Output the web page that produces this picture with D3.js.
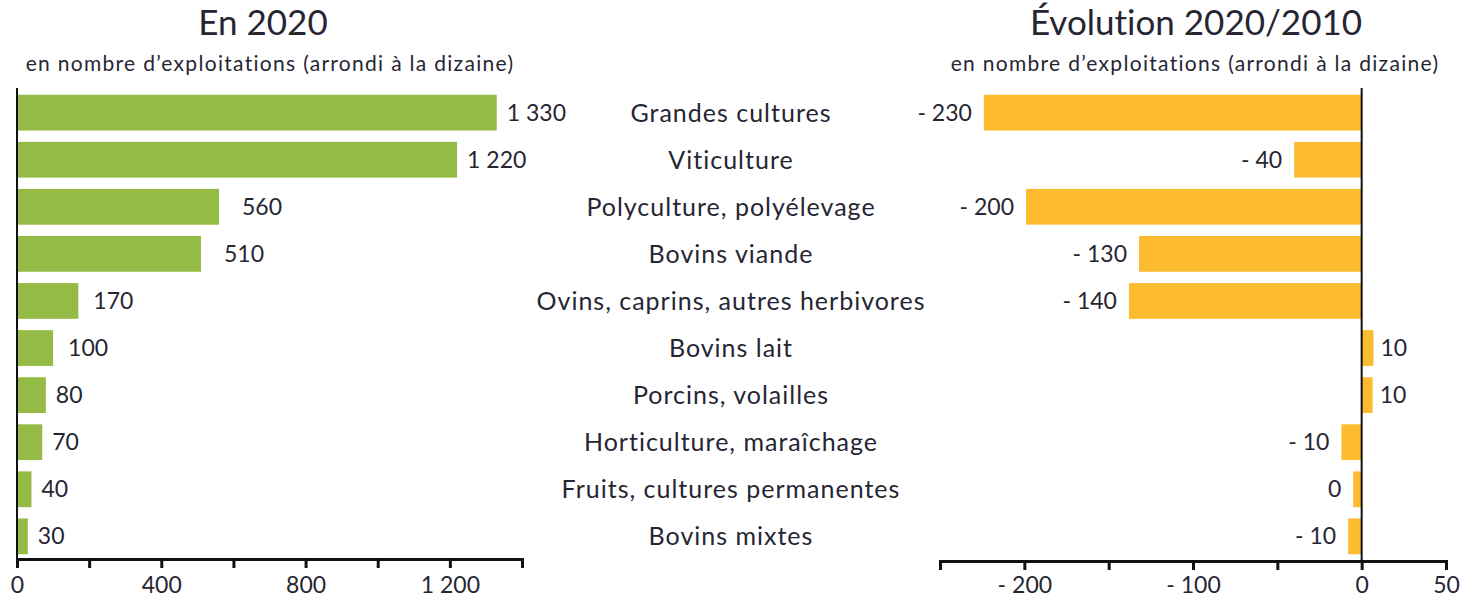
<!DOCTYPE html>
<html lang="fr">
<head>
    <meta charset="UTF-8">
    <title>Exploitations par orientation</title>
    <script src="https://cdnjs.cloudflare.com/ajax/libs/d3/7.8.5/d3.min.js"></script>
    <style>
        body { margin: 0; background: white; font-family: Lato, "Open Sans", sans-serif; }
        svg text { font-variant-ligatures: none; }
        .axis path, .axis line { stroke: #111; stroke-width: 3px; }
        .axis text { font-size: 23px; fill: #262633; font-family: Lato, sans-serif; }
    </style>
</head>
<body>
<svg width="1461" height="601"></svg>
<script>
    const categories = ["Grandes cultures", "Viticulture", "Polyculture, polyélevage", "Bovins viande",
        "Ovins, caprins, autres herbivores", "Bovins lait", "Porcins, volailles",
        "Horticulture, maraîchage", "Fruits, cultures permanentes", "Bovins mixtes"];
    const count2020 = [1330, 1220, 560, 510, 170, 100, 80, 70, 40, 30];
    const count2020Labels = ["1 330", "1 220", "560", "510", "170", "100", "80", "70", "40", "30"];
    const evolution = [-224, -40, -199, -132, -138, 7, 6.5, -12, -5, -8];
    const evolutionLabels = ["- 230", "- 40", "- 200", "- 130", "- 140", "10", "10", "- 10", "0", "- 10"];
    const leftTicks = [0, 200, 400, 600, 800, 1000, 1200, 1400];
    const leftTickLabels = {0: "0", 400: "400", 800: "800", 1200: "1 200"};
    const rightTicks = [-250, -200, -150, -100, -50, 0, 50];
    const rightTickLabels = {"-200": "- 200", "-100": "- 100", "0": "0", "50": "50"};

    const svg = d3.select("svg");
    const green = "#94bb45", orange = "#fdbb2f", textCol = "#262633";

    const y = d3.scaleBand().domain(categories).range([91, 558]).paddingInner(0.24).paddingOuter(0.08);

    // left panel
    const xL = d3.scaleLinear().domain([0, 1400]).range([17, 522]);
    svg.selectAll(".barL").data(categories).enter().append("rect")
        .attr("x", xL(0))
        .attr("y", d => y(d))
        .attr("width", (d, i) => xL(count2020[i]) - xL(0))
        .attr("height", y.bandwidth())
        .attr("fill", green);

    svg.selectAll(".lblL").data(categories).enter().append("text")
        .attr("x", (d, i) => xL(count2020[i]) + (count2020[i] > 1000 ? 10 : count2020[i] > 300 ? 23 : count2020[i] > 90 ? 15 : 10))
        .attr("y", d => y(d) + y.bandwidth() / 2 + 8)
        .attr("font-size", 23).attr("fill", textCol)
        .text((d, i) => count2020Labels[i]);

    svg.append("g").attr("class", "axis").attr("transform", "translate(0,559)")
        .call(d3.axisBottom(xL).tickValues(leftTicks).tickSize(9).tickSizeOuter(9).tickPadding(9)
            .tickFormat(d => leftTickLabels[d] || ""));
    svg.append("line").attr("x1", xL(0)).attr("x2", xL(0)).attr("y1", 88).attr("y2", 559)
        .attr("stroke", "#111").attr("stroke-width", 2);

    // category labels
    svg.selectAll(".cat").data(categories).enter().append("text")
        .attr("x", 731)
        .attr("y", d => y(d) + y.bandwidth() / 2 + 9)
        .attr("text-anchor", "middle")
        .attr("font-size", 25).attr("letter-spacing", 1).attr("fill", textCol)
        .text(d => d);

    // right panel
    const xR = d3.scaleLinear().domain([-250, 50]).range([940, 1446]);
    svg.selectAll(".barR").data(categories).enter().append("rect")
        .attr("x", (d, i) => Math.min(xR(0), xR(evolution[i])))
        .attr("y", d => y(d))
        .attr("width", (d, i) => Math.abs(xR(evolution[i]) - xR(0)))
        .attr("height", y.bandwidth())
        .attr("fill", orange);

    svg.selectAll(".lblR").data(categories).enter().append("text")
        .attr("x", (d, i) => evolution[i] >= 0 ? xR(evolution[i]) + 7 : xR(evolution[i]) - 12)
        .attr("y", d => y(d) + y.bandwidth() / 2 + 8)
        .attr("text-anchor", (d, i) => evolution[i] >= 0 ? "start" : "end")
        .attr("font-size", 23).attr("fill", textCol)
        .text((d, i) => evolutionLabels[i]);

    svg.append("g").attr("class", "axis").attr("transform", "translate(0,561)")
        .call(d3.axisBottom(xR).tickValues(rightTicks).tickSize(9).tickSizeOuter(9).tickPadding(7)
            .tickFormat(d => rightTickLabels[String(d)] || ""));
    svg.append("line").attr("x1", xR(0)).attr("x2", xR(0)).attr("y1", 88).attr("y2", 561)
        .attr("stroke", "#111").attr("stroke-width", 2);

    // titles
    const titles = [
        {text: "En 2020", x: 263, sub: 270},
        {text: "Évolution 2020/2010", x: 1196, sub: 1195}
    ];
    titles.forEach(t => {
        svg.append("text").attr("x", t.x).attr("y", 35).attr("text-anchor", "middle")
            .attr("font-size", 35).attr("fill", textCol).text(t.text);
        svg.append("text").attr("x", t.sub).attr("y", 71).attr("text-anchor", "middle")
            .attr("font-size", 21).attr("letter-spacing", 1.3).attr("fill", textCol)
            .text("en nombre d’exploitations (arrondi à la dizaine)");
    });
</script>
</body>
</html>
